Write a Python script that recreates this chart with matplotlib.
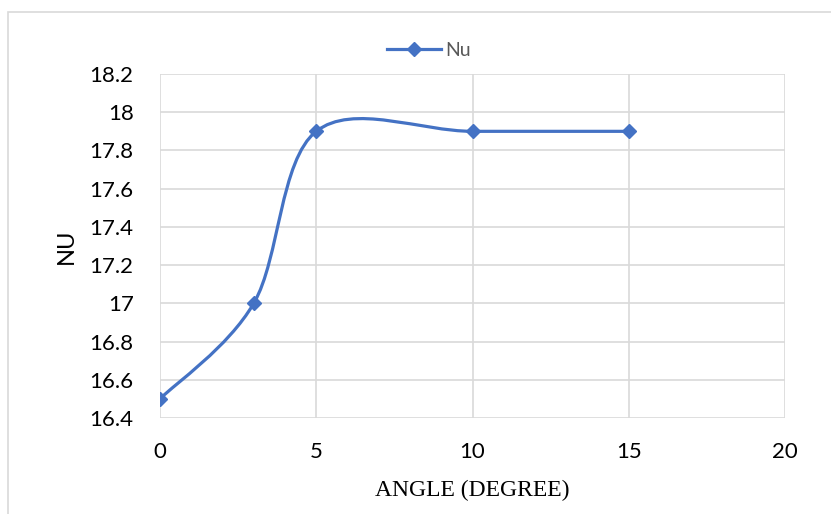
import matplotlib
matplotlib.use("Agg")
import matplotlib.pyplot as plt
from matplotlib.path import Path
from matplotlib.patches import PathPatch, Rectangle
from matplotlib.lines import Line2D
import numpy as np

angle = [0, 3, 5, 10, 15]
nu = [16.5, 17.0, 17.9, 17.9, 17.9]
x_ticks = [0, 5, 10, 15, 20]
y_ticks = [16.4, 16.6, 16.8, 17.0, 17.2, 17.4, 17.6, 17.8, 18.0, 18.2]
y_tick_labels = ["16.4", "16.6", "16.8", "17", "17.2", "17.4", "17.6", "17.8", "18", "18.2"]

color = "#4472C4"
grid_c = "#D9D9D9"

fig = plt.figure(figsize=(8.31, 5.14), dpi=100)
fig.patches.append(Rectangle((8/831, -0.1), 1.2, 1 - 12/514 + 0.1, transform=fig.transFigure,
                             fill=False, edgecolor="#D9D9D9", linewidth=1.2, zorder=0))
ax = fig.add_axes([160/831, 1 - 418/514, (785 - 160)/831, (418 - 74)/514])

# Excel-style smoothed line through the data points (cubic Bezier, Catmull-Rom control points)
P = np.column_stack([angle, nu]).astype(float)
n = len(P)
verts = [tuple(P[0])]
codes = [Path.MOVETO]
for i in range(n - 1):
    p0 = P[i - 1] if i > 0 else P[i]
    p1 = P[i]
    p2 = P[i + 1]
    p3 = P[i + 2] if i + 2 < n else P[i + 1]
    c1 = p1 + (p2 - p0) / 6.0
    c2 = p2 - (p3 - p1) / 6.0
    verts += [tuple(c1), tuple(c2), tuple(p2)]
    codes += [Path.CURVE4] * 3
ax.add_patch(PathPatch(Path(verts, codes), facecolor="none", edgecolor=color,
                       linewidth=2.3, capstyle="round", joinstyle="round", zorder=3))
ax.plot(angle, nu, linestyle="none", marker="D", markersize=7.5, color=color, zorder=4)

ax.set_xlim(0, 20)
ax.set_ylim(16.4, 18.2)
ax.set_xticks(x_ticks)
ax.set_yticks(y_ticks)
ax.set_yticklabels(y_tick_labels)
ax.grid(True, color=grid_c, linewidth=1.2)
ax.set_axisbelow(True)
for s in ax.spines.values():
    s.set_visible(False)
ax.tick_params(length=0, labelsize=16, colors="black")
for lab in ax.get_xticklabels() + ax.get_yticklabels():
    lab.set_fontfamily("Lato")
ax.tick_params(axis="y", pad=19)
ax.tick_params(axis="x", pad=17)

fig.text(66/831, 1 - 246/514, "NU", rotation=90, ha="center", va="center",
         fontsize=17, family="Lato", color="black")
fig.text(472/831, 1 - 490/514, "ANGLE (DEGREE)", ha="center", va="center",
         fontsize=17, family="Liberation Serif", color="black")

h = Line2D([], [], color=color, linewidth=2.3, marker="D", markersize=7.5)
fig.legend([h], ["Nu"], loc="center", bbox_to_anchor=(429/831, 1 - 50/514),
           frameon=False, handlelength=2.8, handletextpad=0.2,
           labelcolor="#595959", prop={"family": "Lato", "size": 14})

fig.savefig("out.png", dpi=100)
